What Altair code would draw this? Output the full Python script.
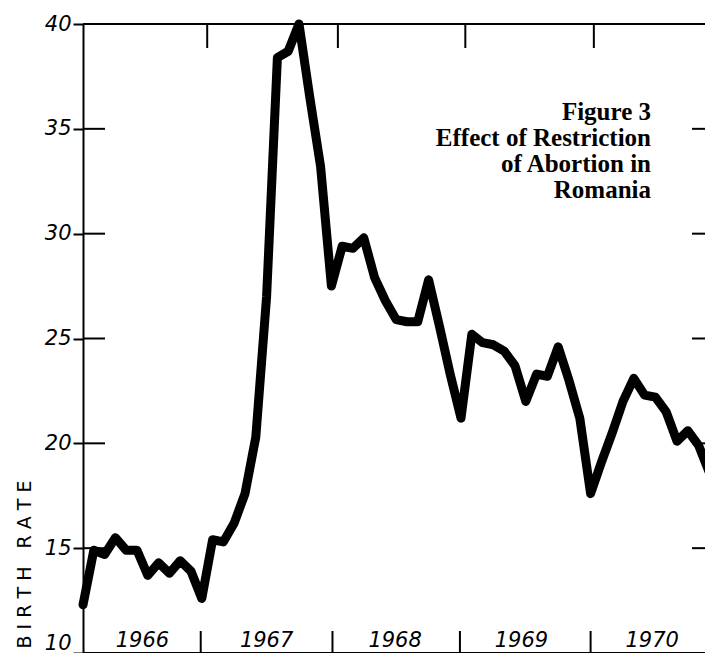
import altair as alt
import pandas as pd

# Monthly birth rate, Romania, Jan 1966 (index 0) .. Nov 1970 (index 58)
month_index = list(range(59))
birth_rate = [
    12.3, 14.9, 14.7, 15.5, 14.9, 14.9, 13.7, 14.3, 13.8, 14.4, 13.9, 12.6,   # 1966
    15.4, 15.3, 16.2, 17.6, 20.3, 27.0, 38.4, 38.7, 40.0, 36.5, 33.2, 27.5,   # 1967
    29.4, 29.3, 29.8, 27.9, 26.8, 25.9, 25.8, 25.8, 27.8, 25.6, 23.3, 21.2,   # 1968
    25.2, 24.8, 24.7, 24.4, 23.7, 22.0, 23.3, 23.2, 24.6, 23.0, 21.2, 17.6,   # 1969
    19.1, 20.5, 22.0, 23.1, 22.3, 22.2, 21.5, 20.1, 20.6, 19.9, 18.6,         # 1970
]

year_labels = ["1966", "1967", "1968", "1969", "1970"]
year_label_pos = [5.5, 17.0, 28.9, 40.6, 52.7]
top_year_ticks = [11.5, 23.6, 35.4, 47.3]
bottom_year_ticks = [10.9, 23.1, 34.9, 47.0]
y_tick_values = [10, 15, 20, 25, 30, 35, 40]
inner_tick_values = [15, 20, 25, 30, 35]
title_lines = ["Figure 3", "Effect of Restriction", "of Abortion in", "Romania"]
y_title = "B I R T H\u00a0\u00a0\u00a0R A T E"

W = 622
H = 629
X_MAX = W / 10.8

xs = alt.Scale(domain=[0, X_MAX], nice=False, zero=False)
ys = alt.Scale(domain=[10, 40], nice=False, zero=False)

y_axis = alt.Axis(
    values=y_tick_values,
    orient="left",
    domain=True,
    domainColor="black",
    domainWidth=2,
    ticks=True,
    tickColor="black",
    tickWidth=2,
    tickSize=10,
    labelFont="DejaVu Sans",
    labelFontStyle="italic",
    labelFontSize=21,
    labelColor="black",
    labelPadding=2,
    labelFlush=False,
    labelOverlap=False,
    labelBaseline={"condition": {"test": "datum.value == 10", "value": "bottom"},
                   "value": "middle"},
    grid=False,
    title=y_title,
    titleFont="DejaVu Sans",
    titleFontSize=19,
    titleFontWeight="normal",
    titleColor="black",
    titleAngle=270,
    titleX=-59,
    titleY=540,
    titleAlign="center",
    titleBaseline="middle",
)

df = pd.DataFrame({"m": month_index, "v": birth_rate})
df_top = pd.DataFrame({"m": top_year_ticks})
df_bot = pd.DataFrame({"m": bottom_year_ticks})
df_inner = pd.DataFrame({"v": inner_tick_values})
df_years = pd.DataFrame({"m": year_label_pos, "label": year_labels})
df_title = pd.DataFrame({"t": ["\n".join(title_lines)]})
one = pd.DataFrame({"k": [0]})

line = alt.Chart(df).mark_line(
    color="black", strokeWidth=9, strokeJoin="round", strokeCap="round"
).encode(
    x=alt.X("m:Q", scale=xs, axis=None),
    y=alt.Y("v:Q", scale=ys, axis=y_axis),
)

top_line = alt.Chart(one).mark_rule(color="black", strokeWidth=2).encode(
    x=alt.value(0), x2=alt.value(W), y=alt.value(0)
)
bottom_line = alt.Chart(one).mark_rule(color="black", strokeWidth=2).encode(
    x=alt.value(0), x2=alt.value(W), y=alt.value(H)
)

top_ticks = alt.Chart(df_top).mark_rule(color="black", strokeWidth=2).encode(
    x=alt.X("m:Q", scale=xs, axis=None), y=alt.value(0), y2=alt.value(24)
)
bottom_ticks = alt.Chart(df_bot).mark_rule(color="black", strokeWidth=2).encode(
    x=alt.X("m:Q", scale=xs, axis=None), y=alt.value(H - 22), y2=alt.value(H)
)
inner_left = alt.Chart(df_inner).mark_rule(color="black", strokeWidth=2).encode(
    y=alt.Y("v:Q", scale=ys, axis=y_axis), x=alt.value(0), x2=alt.value(22)
)
inner_right = alt.Chart(df_inner).mark_rule(color="black", strokeWidth=2).encode(
    y=alt.Y("v:Q", scale=ys, axis=y_axis), x=alt.value(W - 13), x2=alt.value(W)
)

years = alt.Chart(df_years).mark_text(
    font="DejaVu Sans", fontStyle="italic", fontSize=21, color="black",
    align="center", baseline="middle",
).encode(
    x=alt.X("m:Q", scale=xs, axis=None), y=alt.value(H - 12), text="label:N"
)

title = alt.Chart(df_title).mark_text(
    font="Liberation Serif", fontWeight="bold", fontSize=25, lineHeight=26,
    color="black", align="right", baseline="alphabetic", lineBreak="\n",
).encode(
    x=alt.value(568), y=alt.value(96), text="t:N"
)

chart = alt.layer(
    line, top_line, bottom_line, top_ticks, bottom_ticks, inner_left, inner_right,
    years, title,
).properties(
    width=W,
    height=H,
    autosize=alt.AutoSizeParams(type="none"),
    padding={"left": 75, "top": 16, "right": 0, "bottom": 0},
    background="white",
).configure_view(stroke=None)

chart.save("out.html", embed_options={"renderer": "svg", "actions": False})
